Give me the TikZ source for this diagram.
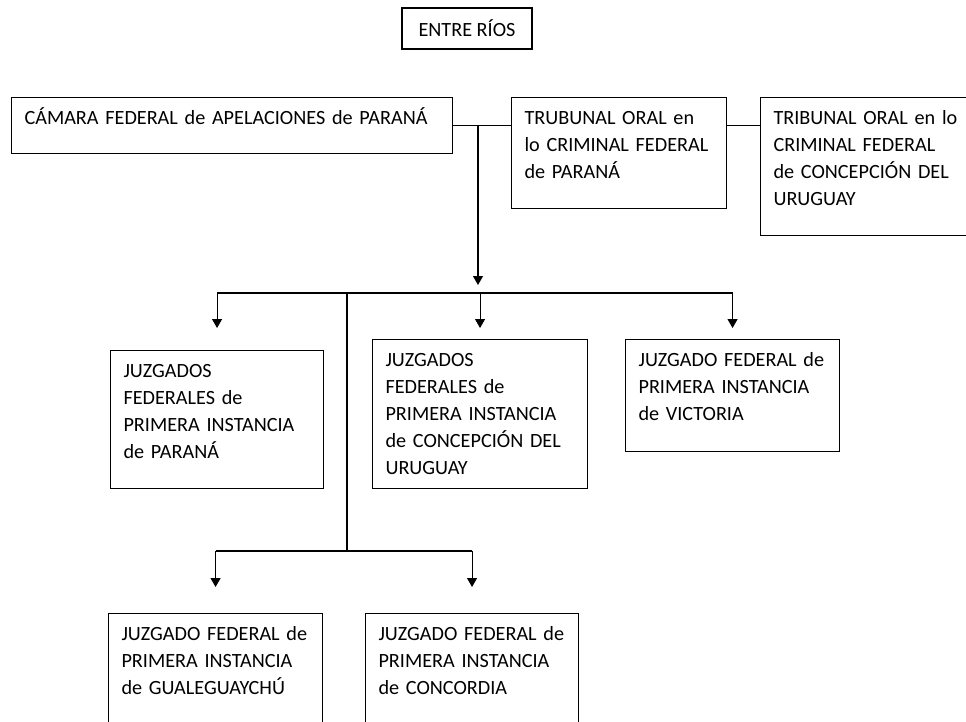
\documentclass[tikz,border=0pt]{standalone}
\usepackage{fontspec}
\setmainfont{Carlito}
\usetikzlibrary{arrows.meta}

\begin{document}
\begin{tikzpicture}[x=1pt,y=-1pt,
  caja/.style={draw,line width=1.1pt,anchor=north west,align=left,
    inner xsep=13pt,inner ysep=13pt,text height=14pt,
    font=\fontsize{20.2}{27}\selectfont},
  titulo/.style={draw,line width=1.1pt,minimum width=130pt,minimum height=41pt,
    inner sep=0pt,font=\fontsize{20.2}{27}\selectfont},
  linea/.style={line width=1.1pt},
  flecha/.style={line width=1.1pt,-{Triangle[width=10pt,length=9pt]}}]
\useasboundingbox (0,0) rectangle (966,721);

\node[titulo] (entre) at (467,28.5) {ENTRE RÍOS};

% primera fila
\node[caja,text width=415pt,text depth=16pt] (camara) at (11,97)
  {CÁMARA FEDERAL de APELACIONES de PARANÁ};
\node[caja,text width=189pt,text depth=71pt] (torP) at (511,97)
  {TRUBUNAL ORAL en\\lo CRIMINAL FEDERAL\\de PARANÁ};
\node[caja,text width=194pt,text depth=98pt] (torCU) at (760,97)
  {TRIBUNAL ORAL en lo\\CRIMINAL FEDERAL\\de CONCEPCIÓN DEL\\URUGUAY};

% juzgados
\node[caja,text width=187pt,text depth=98pt] (jpar) at (110,350)
  {JUZGADOS\\FEDERALES de\\PRIMERA INSTANCIA\\de PARANÁ};
\node[caja,text width=189pt,text depth=109pt] (jcu) at (372,339)
  {JUZGADOS\\FEDERALES de\\PRIMERA INSTANCIA\\de CONCEPCIÓN DEL\\URUGUAY};
\node[caja,text width=188pt,text depth=72pt] (jvic) at (625,339)
  {JUZGADO FEDERAL de\\PRIMERA INSTANCIA\\de VICTORIA};
\node[caja,text width=188pt,text depth=100pt] (jgua) at (108,613)
  {JUZGADO FEDERAL de\\PRIMERA INSTANCIA\\de GUALEGUAYCHÚ};
\node[caja,text width=187pt,text depth=100pt] (jcon) at (365,613)
  {JUZGADO FEDERAL de\\PRIMERA INSTANCIA\\de CONCORDIA};

% conexiones
\coordinate (nudo) at (478,126);
\coordinate (bus) at (478,293);
\coordinate (rama) at (347,293);
\coordinate (bus2) at (347,551);
\draw[linea] (camara.east) -- (camara.east -| torP.west);
\draw[linea] (camara.east -| torP.east) -- (camara.east -| torCU.west);
\draw[flecha] (nudo) -- ([yshift=8pt]bus);
\draw[linea] (bus -| jpar.north) -- (bus -| jvic.north);
\foreach \j in {jpar,jcu,jvic}
  \draw[flecha] (bus -| \j.north) -- ++(0,35);
\draw[linea] (rama) -- (bus2);
\draw[linea] (bus2 -| jgua.north) -- (bus2 -| jcon.north);
\foreach \j in {jgua,jcon}
  \draw[flecha] (bus2 -| \j.north) -- ++(0,36);
\end{tikzpicture}
\end{document}
